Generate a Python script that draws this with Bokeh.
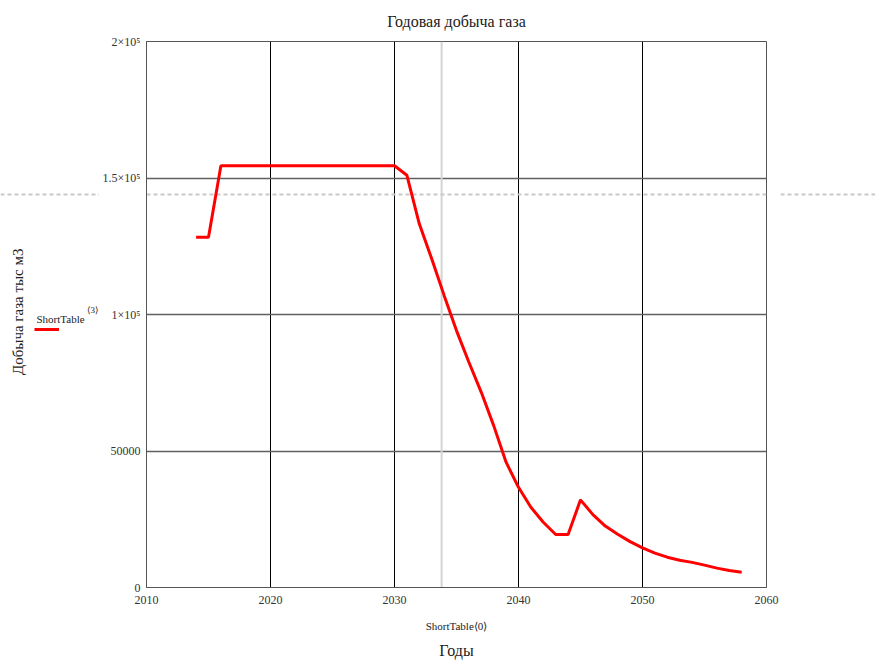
from bokeh.plotting import figure
from bokeh.layouts import row
from bokeh.models import (Span, FixedTicker, Legend, LegendItem, Title, Label,
                          ColumnDataSource, Range1d)
from bokeh.core.properties import value
from bokeh.embed import file_html
from bokeh.resources import INLINE

# ---- data -------------------------------------------------------------
years = list(range(2014, 2059))
gas = [128300, 128300,
       154500, 154500, 154500, 154500, 154500, 154500, 154500, 154500,
       154500, 154500, 154500, 154500, 154500, 154500, 154500,
       151000, 133200, 120400, 107000, 94100, 82500, 71500, 59300, 45900,
       36700, 29400, 23900, 19400, 19400, 32100, 26700, 22500, 19500,
       16800, 14500, 12600, 11100, 10000, 9200, 8200, 7100, 6200, 5600]

x_ticks = [2010, 2020, 2030, 2040, 2050, 2060]
y_ticks = [0, 50000, 100000, 150000, 200000]
y_tick_labels = ["0", "50000", "1×10⁵", "1.5×10⁵", "2×10⁵"]

title_text = "Годовая добыча газа"
y_label = "Добыча газа тыс м3"
x_label_main = "Годы"
x_axis_label = "ShortTable⟨0⟩"
legend_name = "ShortTable"
legend_index = "⟨3⟩"

cursor_x = 2033.8
cursor_y = 144000

SERIF = "Liberation Serif"
TXT = "#222222"
TOP, BOTTOM, FH = 41, 74, 546

yr = Range1d(0, 200000)

# ---- main figure --------------------------------------------------------
p = figure(frame_width=620, frame_height=FH,
           min_border_left=44, min_border_right=14,
           min_border_top=TOP, min_border_bottom=BOTTOM,
           x_range=(2010, 2060), y_range=yr,
           output_backend="svg", toolbar_location=None,
           title=title_text)

p.title.text_font = SERIF
p.title.text_font_size = "16px"
p.title.text_font_style = "normal"
p.title.text_color = TXT
p.title.align = "center"
p.title.vertical_align = "top"
p.title.standoff = 20

p.outline_line_color = "#555555"
p.outline_line_width = 1

for ax in (p.xaxis[0], p.yaxis[0]):
    ax.major_tick_line_color = None
    ax.minor_tick_line_color = None
    ax.axis_line_color = "#555555"
    ax.major_label_text_font = SERIF
    ax.major_label_text_color = "#333333"

p.xaxis.major_label_text_font_size = "12px"
p.yaxis.major_label_text_font_size = "12px"
p.xaxis.ticker = FixedTicker(ticks=x_ticks)
p.yaxis.ticker = FixedTicker(ticks=y_ticks)
p.yaxis.major_label_overrides = {t: l for t, l in zip(y_ticks, y_tick_labels)}
p.xaxis.major_label_standoff = 2
p.yaxis.major_label_standoff = 0

p.xaxis.axis_label = x_axis_label
p.xaxis.axis_label_text_font = SERIF
p.xaxis.axis_label_text_font_size = "11px"
p.xaxis.axis_label_text_font_style = "normal"
p.xaxis.axis_label_text_color = TXT
p.xaxis.axis_label_standoff = 13

p.xgrid.ticker = FixedTicker(ticks=x_ticks)
p.ygrid.ticker = FixedTicker(ticks=y_ticks)
p.xgrid.grid_line_color = "black"
p.xgrid.grid_line_width = 1
p.ygrid.grid_line_color = "#606060"
p.ygrid.grid_line_width = 1.5

# crosshair (trace cursor)
p.add_layout(Span(location=cursor_x, dimension="height",
                  line_color="#d4d4d4", line_width=2, level="underlay"))
p.add_layout(Span(location=cursor_y, dimension="width",
                  line_color="#c8c8c8", line_width=2, line_dash="4 3",
                  level="underlay"))

src = ColumnDataSource(dict(year=years, gas=gas))
r = p.line("year", "gas", source=src, line_color="red", line_width=3)

p.add_layout(Title(text=x_label_main, align="center", text_font=SERIF,
                   text_font_size="16px", text_font_style="normal",
                   text_color=TXT, vertical_align="bottom"), "below")

# ---- left strip: y label + legend ---------------------------------------
LW = 99
left = figure(frame_width=LW, frame_height=FH,
              min_border_left=0, min_border_right=0,
              min_border_top=TOP, min_border_bottom=BOTTOM,
              x_range=(0, LW), y_range=yr,
              x_axis_location=None, y_axis_location=None,
              output_backend="svg", toolbar_location=None)
left.grid.visible = False
left.outline_line_color = None
left.add_layout(Span(location=cursor_y, dimension="width",
                     line_color="#c8c8c8", line_width=2, line_dash="4 3",
                     level="underlay"))
# legend proxy: same series and style; its years lie outside this strip's range
lr = left.line("year", "gas", source=src, line_color="red", line_width=3)
legend = Legend(items=[LegendItem(label=value(""), renderers=[lr])],
                location=(34, 255), padding=0, margin=0, spacing=0,
                glyph_width=25, glyph_height=6, label_height=6,
                label_width=0, label_standoff=0,
                label_text_font_size="1px",
                border_line_color=None, background_fill_alpha=0)
left.add_layout(legend)
left.add_layout(Label(x=36, y=98500, text=legend_name,
                      text_align="left", text_baseline="middle",
                      text_font=SERIF, text_font_size="11px",
                      text_color=TXT))
left.add_layout(Label(x=86, y=101500, text=legend_index,
                      text_align="left", text_baseline="middle",
                      text_font=SERIF, text_font_size="9px",
                      text_color=TXT))
left.add_layout(Label(x=17, y=101000, text=y_label, angle=90,
                      angle_units="deg", text_align="center",
                      text_baseline="middle", text_font=SERIF,
                      text_font_size="15px", text_color=TXT))

# ---- right strip: continuation of the dashed cursor line ----------------
RW = 95
right = figure(frame_width=RW, frame_height=FH,
               min_border_left=0, min_border_right=0,
               min_border_top=TOP, min_border_bottom=BOTTOM,
               x_range=(0, RW), y_range=yr,
               x_axis_location=None, y_axis_location=None,
               output_backend="svg", toolbar_location=None)
right.grid.visible = False
right.outline_line_color = None
right.add_layout(Span(location=cursor_y, dimension="width",
                      line_color="#c8c8c8", line_width=2, line_dash="4 3",
                      level="underlay"))

layout = row(left, p, right, spacing=0)
open("out.html", "w").write(file_html(layout, INLINE))
